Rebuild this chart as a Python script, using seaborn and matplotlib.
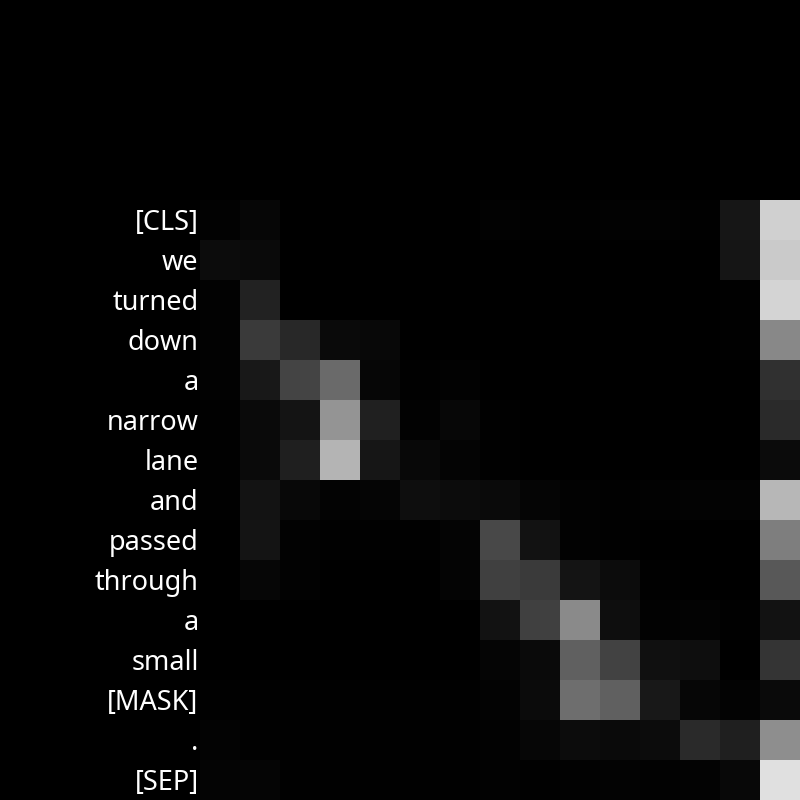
import numpy as np
import pandas as pd
import matplotlib
matplotlib.use("Agg")
import matplotlib.pyplot as plt
import matplotlib.transforms as mtransforms
import seaborn as sns

tokens = ["[CLS]", "we", "turned", "down", "a", "narrow", "lane", "and",
          "passed", "through", "a", "small", "[MASK]", ".", "[SEP]"]

# gray levels (0-255), one row per token
row_cls    = [0x02, 0x06, 0x00, 0x00, 0x00, 0x00, 0x00, 0x02, 0x01, 0x01, 0x02, 0x02, 0x01, 0x16, 0xD0]
row_we     = [0x0C, 0x0A, 0x00, 0x00, 0x00, 0x00, 0x00, 0x00, 0x00, 0x00, 0x00, 0x00, 0x00, 0x15, 0xCA]
row_turned = [0x02, 0x22, 0x00, 0x00, 0x00, 0x00, 0x00, 0x00, 0x00, 0x00, 0x00, 0x00, 0x00, 0x01, 0xD4]
row_down   = [0x02, 0x3A, 0x28, 0x0A, 0x08, 0x00, 0x00, 0x00, 0x00, 0x00, 0x00, 0x00, 0x00, 0x01, 0x88]
row_a1     = [0x02, 0x18, 0x44, 0x6A, 0x06, 0x01, 0x02, 0x00, 0x00, 0x00, 0x00, 0x00, 0x00, 0x00, 0x30]
row_narrow = [0x01, 0x0A, 0x14, 0x94, 0x20, 0x02, 0x07, 0x01, 0x00, 0x00, 0x00, 0x00, 0x00, 0x00, 0x2A]
row_lane   = [0x01, 0x0A, 0x1F, 0xB4, 0x16, 0x08, 0x04, 0x01, 0x00, 0x00, 0x00, 0x00, 0x00, 0x00, 0x0B]
row_and    = [0x01, 0x13, 0x08, 0x03, 0x05, 0x0E, 0x0C, 0x0A, 0x05, 0x02, 0x01, 0x02, 0x03, 0x03, 0xB7]
row_passed = [0x00, 0x14, 0x02, 0x01, 0x01, 0x01, 0x04, 0x48, 0x12, 0x02, 0x01, 0x00, 0x00, 0x00, 0x7E]
row_through= [0x00, 0x06, 0x02, 0x00, 0x00, 0x00, 0x04, 0x40, 0x3A, 0x14, 0x0C, 0x01, 0x00, 0x00, 0x58]
row_a2     = [0x00, 0x00, 0x00, 0x00, 0x00, 0x00, 0x00, 0x12, 0x40, 0x8A, 0x0E, 0x02, 0x03, 0x01, 0x12]
row_small  = [0x00, 0x00, 0x00, 0x00, 0x00, 0x00, 0x00, 0x05, 0x0A, 0x60, 0x42, 0x10, 0x0E, 0x00, 0x34]
row_mask   = [0x01, 0x01, 0x01, 0x01, 0x01, 0x01, 0x01, 0x03, 0x0B, 0x6E, 0x60, 0x18, 0x06, 0x03, 0x0A]
row_dot    = [0x03, 0x01, 0x01, 0x01, 0x01, 0x01, 0x01, 0x02, 0x06, 0x0C, 0x0A, 0x0C, 0x2A, 0x1F, 0x8E]
row_sep    = [0x04, 0x05, 0x01, 0x01, 0x01, 0x01, 0x01, 0x02, 0x01, 0x02, 0x03, 0x02, 0x03, 0x08, 0xE0]

rows = [row_cls, row_we, row_turned, row_down, row_a1, row_narrow, row_lane, row_and,
        row_passed, row_through, row_a2, row_small, row_mask, row_dot, row_sep]

data = pd.DataFrame(np.array(rows, dtype=float) / 255.0, index=tokens, columns=tokens)

plt.rcParams['font.family'] = ['Noto Sans', 'DejaVu Sans']
fig = plt.figure(figsize=(8, 8), dpi=100, facecolor="black")
ax = fig.add_axes([0.25, 0.0, 0.75, 0.75])
ax.set_facecolor("black")
sns.heatmap(data, ax=ax, cmap="gray", vmin=0, vmax=1, cbar=False,
            xticklabels=False, yticklabels=True, square=False)
ax.tick_params(axis="y", length=0, pad=1, colors="white", labelsize=19.5)
ax.tick_params(axis="x", length=0)
offset = mtransforms.ScaledTranslation(0, -3 / 100, fig.dpi_scale_trans)
for lbl in ax.get_yticklabels():
    lbl.set_color("white")
    lbl.set_rotation(0)
    lbl.set_transform(lbl.get_transform() + offset)
ax.set_xlabel("")
ax.set_ylabel("")
fig.savefig("out.png", dpi=100, facecolor="black")
